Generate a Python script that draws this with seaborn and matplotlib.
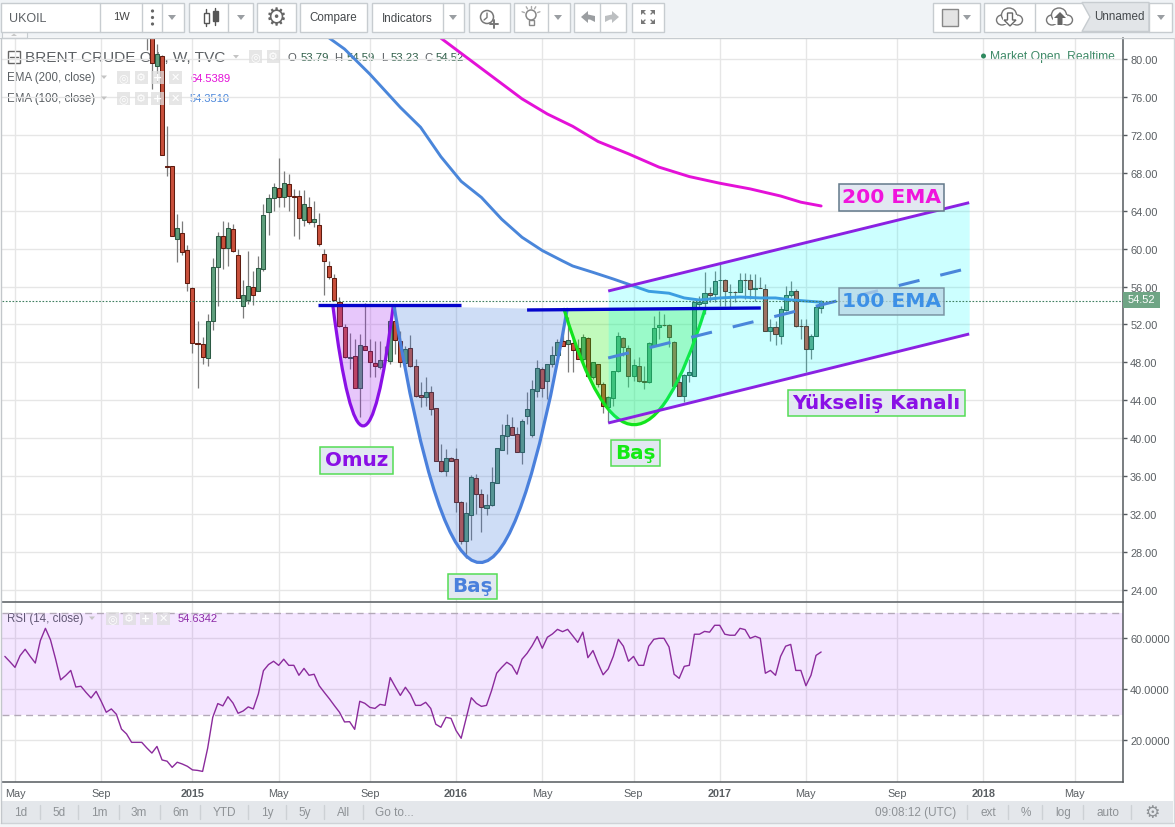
import numpy as np
import pandas as pd
import seaborn as sns
import matplotlib
matplotlib.use("Agg")
import matplotlib.pyplot as plt
from matplotlib.path import Path
from matplotlib.patches import PathPatch, Rectangle, Circle, Polygon, Ellipse

# ---------- data ----------
first_week = 26
opens = [88, 83.5, 79.23, 80.28, 68.7, 68.68, 61.02, 61.61, 59.82, 55.81,
         50.01, 49.91, 48.43, 52.33, 58.1, 61.37, 60.03, 62.04, 59.29, 53.9,
         54.62, 55.99, 55.5, 57.82, 63.83, 65.31, 66.36, 65.41, 66.78, 65.52,
         65.52, 62.99, 64.36, 62.77, 62.46, 59.4, 58.13, 56.87, 54.41, 51.7,
         48.43, 48.71, 45.27, 49.77, 49.17, 47.94, 47.55, 48.29, 48.2, 52.4,
         50.3, 47.97, 49.49, 47.59, 44.53, 44.32, 44.84, 43.16, 37.64, 36.58,
         37.88, 37.78, 33.24, 29.2, 31.94, 35.78, 34.09, 32.68, 33.0, 35.32,
         38.8, 40.2, 41.15, 40.41, 38.52, 42.38, 40.38, 44.95, 47.27, 46.07,
         47.8, 48.78, 50.22, 49.94, 50.05, 49.5, 48.36, 50.54, 46.43, 47.8,
         45.69, 43.26, 44.3, 47.06, 50.54, 49.49, 46.53, 47.66, 46.01, 45.9,
         49.87, 51.7, 51.98, 51.94, 50.19, 45.9, 44.49, 46.71, 46.6, 54.2,
         54.23, 55.29, 55.22, 56.68, 56.73, 55.4, 55.4, 55.39, 56.73, 56.66,
         55.74, 55.88, 55.71, 51.31, 51.7, 50.75, 53.53, 55.15, 55.57, 51.88,
         51.81, 49.38, 50.75, 53.79]
highs = [92, 85, 81.58, 80.4, 72.97, 68.7, 63.65, 62.88, 60.38, 55.92,
         52.33, 50.65, 53.11, 58.98, 61.72, 62.95, 62.77, 62.6, 59.96, 56.73,
         59.79, 57.6, 59.19, 64.71, 65.76, 66.92, 69.56, 68.15, 67.84, 66.29,
         66.22, 66.22, 65.41, 64.99, 63.76, 59.96, 58.73, 57.33, 54.87, 52.05,
         51.1, 50.47, 51.0, 54.27, 50.47, 50.3, 50.3, 49.77, 52.58, 53.99,
         51.35, 49.77, 50.89, 48.36, 45.9, 46.43, 45.55, 43.16, 39.4, 38.87,
         37.99, 38.94, 33.42, 33.24, 36.13, 36.23, 34.65, 34.12, 36.94, 38.94,
         41.51, 42.56, 42.21, 41.15, 42.03, 44.85, 46.15, 48.26, 47.48, 47.83,
         49.77, 50.47, 51.7, 52.76, 50.82, 50.47, 51.0, 50.65, 48.01, 47.83,
         45.9, 44.5, 47.13, 51.17, 50.65, 49.84, 48.36, 48.54, 47.66, 50.12,
         52.93, 53.46, 53.1, 52.05, 50.3, 46.88, 46.78, 48.36, 54.51, 55.0,
         57.5, 55.92, 57.6, 58.38, 56.8, 56.27, 55.5, 57.4, 57.4, 57.33,
         57.33, 57.04, 56.27, 52.58, 52.4, 53.99, 56.1, 56.55, 55.74, 52.58,
         52.58, 51.0, 53.99, 54.59]
lows = [81, 76.84, 77.54, 69.9, 67.63, 61.37, 58.63, 59.33, 55.57, 48.99,
        45.27, 47.83, 47.66, 51.46, 53.98, 57.85, 58.2, 59.61, 54.76, 52.65,
        54.16, 54.09, 55.5, 57.6, 61.44, 64.0, 64.36, 64.36, 64.0, 61.37,
        61.02, 62.42, 62.6, 62.25, 60.24, 55.15, 56.8, 54.51, 51.7, 48.43,
        47.3, 45.27, 42.21, 49.27, 46.43, 46.43, 47.3, 48.2, 47.83, 48.89,
        47.48, 47.48, 47.48, 44.32, 43.26, 43.44, 42.49, 37.64, 36.41, 36.06,
        37.57, 32.26, 28.85, 27.34, 29.31, 32.0, 30.08, 31.91, 32.89, 35.32,
        38.8, 38.34, 40.38, 38.59, 37.3, 41.5, 40.17, 44.39, 44.32, 44.14,
        47.48, 48.71, 49.7, 46.95, 46.95, 48.36, 48.01, 46.43, 46.25, 45.37,
        42.67, 41.68, 43.44, 46.95, 48.71, 45.37, 46.07, 45.97, 45.2, 45.83,
        49.77, 50.47, 51.88, 49.59, 45.37, 44.49, 43.79, 45.9, 46.6, 53.6,
        53.1, 54.34, 54.34, 53.99, 53.99, 53.8, 54.34, 55.39, 54.69, 54.69,
        54.51, 55.8, 51.31, 50.3, 49.84, 49.94, 53.46, 54.87, 51.7, 50.47,
        46.95, 48.36, 50.75, 53.23]
closes = [84, 79.58, 80.53, 69.91, 68.65, 61.37, 62.14, 59.61, 56.34, 50.01,
          49.91, 48.54, 52.33, 58.03, 61.37, 60.03, 62.14, 59.72, 54.76, 55.15,
          56.1, 55.08, 57.92, 63.6, 65.31, 66.47, 65.41, 66.87, 65.52, 65.41,
          63.2, 64.67, 62.77, 63.09, 60.46, 58.66, 56.97, 54.62, 51.81, 48.54,
          48.61, 45.27, 49.87, 49.27, 48.08, 47.66, 48.29, 48.22, 52.4, 50.4,
          48.01, 49.38, 47.66, 44.42, 44.32, 44.84, 43.12, 37.64, 36.58, 37.88,
          37.57, 33.24, 29.2, 32.08, 35.88, 34.09, 32.72, 33.0, 35.35, 38.94,
          40.31, 41.4, 40.38, 38.59, 41.8, 43.05, 45.2, 47.37, 45.27, 47.8,
          48.78, 50.12, 49.77, 50.33, 49.35, 48.36, 50.65, 46.53, 48.01, 45.69,
          43.44, 44.4, 47.13, 50.75, 49.59, 46.53, 47.76, 46.01, 45.95, 50.01,
          51.63, 51.98, 51.91, 50.65, 45.55, 44.49, 46.71, 47.03, 54.34, 54.34,
          55.29, 55.08, 56.62, 56.73, 55.5, 55.43, 55.38, 56.73, 56.7, 55.74,
          55.85, 55.84, 51.31, 51.7, 50.96, 53.63, 55.15, 55.57, 51.88, 51.83,
          49.38, 50.75, 53.81, 54.52]

ema100_week = [62, 65, 70, 76, 80, 84, 88, 92, 96, 100, 104, 108, 110, 114, 118, 122, 125, 129,
               132, 135, 139, 143, 147, 150, 153, 159]
ema100_val = [82.2, 81.05, 78.4, 74.9, 72.8, 69.7, 67.1, 65.4, 63.1, 61.2, 59.8, 58.7, 58.17, 57.5,
              56.8, 56.06, 55.5, 55.3, 54.8, 54.58, 54.8, 54.9, 54.8, 54.8, 54.6, 54.35]
ema200_week = [84, 90, 96, 100, 105, 110, 115, 121, 127, 133, 139, 145, 151, 155, 159]
ema200_val = [82.2, 79.8, 77.4, 75.8, 74.2, 72.9, 71.3, 70.0, 68.6, 67.6, 66.9, 66.3, 65.55, 64.9, 64.5]

rsi_first_week = -2
rsi_val = [52.9, 50.8, 48.6, 53.2, 55.7, 52.9, 50.3, 59.1, 63.9, 59.4, 51.9, 43.7, 45.4, 47.4, 40.9,
           41.2, 38.8, 36.6, 39.2, 35.3, 31.0, 32.3, 30.2, 24.4, 22.5, 19.2, 19.2, 19.2, 17.0, 15.0,
           17.6, 12.3, 11.8, 9.4, 11.4, 10.7, 9.8, 8.4, 8.2, 7.8, 16.9, 29.0, 34.4, 33.5, 37.1, 34.6,
           30.6, 31.5, 33.1, 32.3, 38.2, 47.3, 49.7, 51.0, 49.4, 51.8, 49.4, 49.4, 45.5, 48.2, 45.5,
           45.9, 41.4, 38.8, 36.3, 33.6, 31.0, 27.2, 27.3, 24.3, 35.3, 34.5, 32.9, 32.5, 34.1, 33.7,
           44.6, 41.0, 37.6, 40.8, 38.0, 33.7,
           33.7, 34.9, 32.5, 26.3, 25.1, 29.0, 28.6, 23.8, 20.8, 28.8, 36.7, 34.5, 33.3, 33.7, 39.5,
           46.3, 48.6, 50.6, 49.3, 45.9, 51.8, 54.1, 57.1, 60.7, 56.1, 60.4, 61.7, 63.5, 62.6, 63.5,
           61.0, 58.4, 62.4, 52.4, 55.2, 50.2, 45.7, 48.0, 52.9, 59.6, 56.9, 51.0, 52.9, 49.4, 49.4,
           56.9, 59.6, 60.0, 60.0, 56.6, 45.9, 44.3, 49.0, 49.4, 61.6, 61.6, 62.7, 62.4, 65.1, 65.1,
           61.6, 61.2, 61.2, 63.9, 63.4, 60.0, 60.8, 60.0, 46.3, 47.4, 45.5, 52.9, 56.9, 57.6, 47.4,
           47.4, 41.4, 45.5, 53.3, 54.63]

date_ticks = [0, 17, 35, 52, 70, 87, 104, 122, 139, 156, 174, 191, 209]
date_labels = ["May", "Sep", "2015", "May", "Sep", "2016", "May", "Sep", "2017", "May", "Sep", "2018", "May"]
price_ticks = list(range(24, 84, 4))
rsi_ticks = [20, 40, 60]
last_price = 54.52

shoulder_week, shoulder_price = [62.7, 68.7, 74.6], [53.95, 28.65, 53.95]
head_week, head_price = [74.75, 91.5, 108.9], [53.95, 0.0, 53.6]
right_week, right_price = [108.3, 122.0, 136.1], [53.6, 29.26, 53.6]
channel_week = [117.0, 188.2]
channel_top = [55.53, 64.85]
channel_mid = [48.47, 57.96]
channel_bot = [41.61, 51.0]
neck1_week, neck1_price = [59.8, 88.0], [54.06, 54.06]
neck2_week, neck2_price = [101.0, 147.1], [53.53, 53.74]

# ---------- theme ----------
sns.set_theme(style="white")
plt.rcParams["font.family"] = ["Liberation Sans", "DejaVu Sans"]

W, H = 1175, 828
fig = plt.figure(figsize=(W / 100, H / 100), dpi=100, facecolor="white")


def box(l, t, r, b):
    return [l / W, 1 - b / H, (r - l) / W, (b - t) / H]


GRID = "#e6e6e6"
AXC = "#555a5e"
TXT = "#5a5f63"

# chrome under the panes (legend)
under = fig.add_axes([0, 0, 1, 1], zorder=0)
under.set_xlim(0, W); under.set_ylim(H, 0); under.axis("off")

# main pane
ax = fig.add_axes(box(2, 39, 1122.5, 603), zorder=1, facecolor="none")
x2w = lambda px: (px - 15) / 5.07
ax.set_xlim(x2w(2), x2w(1122.5))
ax.set_ylim(80 - (603 - 60) / 9.482, 80 + 21 / 9.482)

# rsi pane
rx = fig.add_axes(box(2, 603.5, 1122.5, 783), zorder=1, facecolor="none")
rx.set_xlim(ax.get_xlim())
rx.set_ylim(20 - (783 - 741.3) / 2.55, 60 + (639.3 - 603.5) / 2.55)

for a, yt in ((ax, price_ticks), (rx, rsi_ticks)):
    a.set_axisbelow(True)
    a.grid(True, color=GRID, lw=1)
    a.set_xticks(date_ticks)
    a.yaxis.tick_right()
    a.set_yticks(yt)
    for s in ("left", "top"):
        a.spines[s].set_visible(False)
    for s in ("right", "bottom"):
        a.spines[s].set_color(AXC); a.spines[s].set_linewidth(1.1)
    a.tick_params(axis="y", length=3, width=1, color=AXC, labelcolor=TXT, labelsize=7.9, pad=2.5)

ax.set_yticklabels(["%.2f" % v for v in price_ticks])
rx.set_yticklabels(["%.4f" % v for v in rsi_ticks])
ax.tick_params(axis="x", length=0, labelbottom=False)
rx.tick_params(axis="x", length=3, width=1, color=AXC, labelcolor=TXT, labelsize=7.8, pad=1.5)
rx.set_xticklabels(date_labels)
for lab, txt in zip(rx.get_xticklabels(), date_labels):
    if txt.isdigit():
        lab.set_fontweight("bold")
ax.spines["bottom"].set_visible(True)
ax.set_xlabel(""); ax.set_ylabel(""); rx.set_xlabel(""); rx.set_ylabel("")

# candles
candles = pd.DataFrame({"open": opens, "high": highs, "low": lows, "close": closes})
candles["week"] = np.arange(first_week, first_week + len(candles))
up = candles["close"] >= candles["open"]
ax.vlines(candles["week"], candles["low"], candles["high"], color="#7b7b7b", lw=0.9, zorder=2)
bottoms = candles[["open", "close"]].min(axis=1)
heights = (candles["close"] - candles["open"]).abs()
ax.bar(candles["week"], heights, bottom=bottoms, width=0.8,
       color=np.where(up, "#5f9f7d", "#c9503b"),
       edgecolor=np.where(up, "#2c5a44", "#5e1c10"), linewidth=0.75, zorder=3)

# EMAs
ema100 = pd.DataFrame({"week": ema100_week, "value": ema100_val})
ema200 = pd.DataFrame({"week": ema200_week, "value": ema200_val})
sns.lineplot(data=ema100, x="week", y="value", ax=ax, color="#4a86da", lw=2.1, zorder=4, errorbar=None,
             solid_joinstyle="round")
sns.lineplot(data=ema200, x="week", y="value", ax=ax, color="#e411d8", lw=2.1, zorder=4, errorbar=None,
             solid_joinstyle="round")
ax.set_xlabel(""); ax.set_ylabel("")


def curve(weeks, prices, line, fill, alpha):
    v = list(zip(weeks, prices))
    ax.add_patch(PathPatch(Path(v + [v[0]], [Path.MOVETO, Path.CURVE3, Path.CURVE3, Path.CLOSEPOLY]),
                           facecolor=fill, edgecolor="none", alpha=alpha, zorder=5))
    ax.add_patch(PathPatch(Path(v, [Path.MOVETO, Path.CURVE3, Path.CURVE3]),
                           facecolor="none", edgecolor=line, lw=2.3, zorder=6, capstyle="round"))


curve(shoulder_week, shoulder_price, "#8a10e6", "#a020f0", 0.25)
curve(head_week, head_price, "#4a80dc", "#3c78dc", 0.25)
curve(right_week, right_price, "#12e41c", "#22ee10", 0.28)

ax.fill_between(channel_week, channel_bot, channel_top, color="#00ffff", alpha=0.2, lw=0, zorder=7)
ax.plot(channel_week, channel_top, color="#8a22e2", lw=2.1, zorder=8, solid_capstyle="butt")
ax.plot(channel_week, channel_bot, color="#8a22e2", lw=2.1, zorder=8, solid_capstyle="butt")
ax.plot(channel_week, channel_mid, color="#4a86da", lw=2.2, ls=(0, (7, 7)), zorder=8)
ax.plot(neck1_week, neck1_price, color="#0404cc", lw=2.4, zorder=9, solid_capstyle="butt")
ax.plot(neck2_week, neck2_price, color="#0404cc", lw=2.4, zorder=9, solid_capstyle="butt")
ax.axhline(last_price, color="#3f7f60", lw=0.8, ls=(0, (1.5, 1.5)), zorder=9)

# RSI
rsi = pd.DataFrame({"week": np.arange(rsi_first_week, rsi_first_week + len(rsi_val)), "rsi": rsi_val})
rx.axhspan(30, 70, color="#9915ff", alpha=0.105, lw=0, zorder=1)
for lvl in (30, 70):
    rx.axhline(lvl, color="#b3a9b8", lw=1, ls=(0, (5, 3.5)), zorder=1.5)
sns.lineplot(data=rsi, x="week", y="rsi", ax=rx, color="#8b2b9c", lw=1.0, zorder=3, errorbar=None)
rx.set_xlabel(""); rx.set_ylabel("")


# ---------- legend under panes ----------
def T(a, x, y, s, size=8.5, color=TXT, ha="left", weight="normal", **kw):
    return a.text(x, y, s, fontsize=size, color=color, ha=ha, va="center", fontweight=weight, **kw)


under.add_patch(Rectangle((7.5, 52), 12, 12, fc="white", ec="#666", lw=1))
under.plot([9.5, 17.5], [58, 58], color="#666", lw=1)
T(under, 25, 58, "BRENT CRUDE OIL, W, TVC", size=11.1, color="#5c6064")
T(under, 7, 78, "EMA (200, close)", size=8.3)
T(under, 7, 99, "EMA (100, close)", size=8.3)
T(under, 190, 78.5, "64.5389", size=8.0, color="#e411d8")
T(under, 190, 99.5, "54.3510", size=8.0, color="#4a86da")
T(under, 7, 619, "RSI (14, close)", size=8.3)
T(under, 178, 619.5, "54.6342", size=8.0, color="#8b2b9c")
T(under, 288, 58, "O", size=8.2)
T(under, 301, 58, "53.79", size=8.2, color="#2f5f49")
T(under, 334, 58, "H", size=8.2)
T(under, 347, 58, "54.59", size=8.2, color="#2f5f49")
T(under, 381, 58, "L", size=8.2)
T(under, 391, 58, "53.23", size=8.2, color="#2f5f49")
T(under, 424, 58, "C", size=8.2)
T(under, 436, 58, "54.52", size=8.2, color="#2f5f49")
T(under, 990, 57, "Market Open  Realtime", size=8.7, color="#3f8a68")

# ---------- chrome above panes ----------
top = fig.add_axes([0, 0, 1, 1], zorder=3)
top.set_xlim(0, W); top.set_ylim(H, 0); top.axis("off"); top.patch.set_alpha(0)

top.add_patch(Circle((983.5, 57), 2.5, fc="#2f8a5f", ec="none"))

BAR = "#f0f3f6"
EDGE = "#c7ccd0"
top.add_patch(Rectangle((0, 0), W, 38, fc=BAR, ec="none"))
top.plot([0, W], [38.5, 38.5], color=EDGE, lw=1)
top.add_patch(Rectangle((2, 33), 25, 5.5, fc="#f7f8f9", ec=EDGE, lw=0.8))
top.add_patch(Polygon([[11, 37], [17, 37], [14, 34.5]], fc="#c8c8c8", ec="none"))


def btn(l, r, seps=(), fc="white"):
    top.add_patch(Rectangle((l, 3.5), r - l, 29, fc=fc, ec=EDGE, lw=1))
    for s in seps:
        top.plot([s, s], [3.5, 32.5], color=EDGE, lw=1)


def arrow_down(x, y=18, c="#9a9ea2"):
    top.add_patch(Polygon([[x - 4, y - 2], [x + 4, y - 2], [x, y + 3]], fc=c, ec="none"))


btn(1, 183.5, (100, 141.5, 162))
btn(188.5, 253, (228,))
btn(257, 296)
btn(300, 366.5)
btn(371.5, 464, (443,))
btn(468.5, 510)
btn(514, 570, (548,))
btn(574, 626, (600,))
btn(632, 664)
btn(933, 979.5)
btn(984, 1172, (1035, 1149))
top.add_patch(Polygon([[1082, 3.5], [1149, 3.5], [1149, 32.5], [1082, 32.5], [1090, 18]],
                      fc="#e2e5e8", ec=EDGE, lw=1))
T(top, 9, 18.5, "UKOIL", size=9.0, color="#5c6064")
T(top, 121, 17.5, "1W", size=8, color="#444", ha="center")
for yy in (12, 18.5, 25):
    top.add_patch(Circle((152.5, yy), 1.6, fc="#666", ec="none"))
arrow_down(172); arrow_down(241); arrow_down(453); arrow_down(558); arrow_down(967); arrow_down(1161)
T(top, 333, 18.5, "Compare", size=8.4, color="#45494c", ha="center")
T(top, 407, 18.5, "Indicators", size=8.4, color="#45494c", ha="center")
T(top, 1119, 17.5, "Unnamed", size=8.4, color="#45494c", ha="center")
# candle icon
top.plot([206, 206], [10, 27], color="#555", lw=1)
top.plot([215, 215], [9, 26], color="#555", lw=1)
top.add_patch(Rectangle((204, 14), 4.5, 10, fc="white", ec="#555", lw=1, zorder=3))
top.add_patch(Rectangle((213, 12), 4.5, 10, fc="#555", ec="#555", lw=1, zorder=3))
top.text(276, 18, "\u2699", fontsize=17, color="#666", ha="center", va="center", family="DejaVu Sans")
# alarm
top.add_patch(Circle((487, 18), 6.5, fc="none", ec="#777", lw=1.1))
top.plot([487, 487, 484], [14, 18.5, 21], color="#777", lw=1)
top.plot([494, 494], [21, 29], color="#777", lw=1.4)
top.plot([490, 498], [25, 25], color="#777", lw=1.4)
# bulb
top.add_patch(Circle((531, 16), 5, fc="none", ec="#888", lw=1.1))
top.add_patch(Rectangle((528.5, 21), 5, 5, fc="white", ec="#888", lw=1))
for a_ in np.deg2rad([-160, -120, -90, -60, -20]):
    top.plot([531 + 7 * np.cos(a_), 531 + 9.5 * np.cos(a_)], [16 + 7 * np.sin(a_), 16 + 9.5 * np.sin(a_)],
             color="#aaa", lw=1)
# undo / redo


def hook(x, sgn, c):
    top.add_patch(Polygon([[x - 7 * sgn, 18], [x, 12], [x, 15.5], [x + 7 * sgn, 17], [x + 7 * sgn, 23],
                           [x + 2 * sgn, 20.5], [x, 20.5], [x, 24]], fc=c, ec="none"))


hook(588, 1, "#9b9ea1")
hook(612, -1, "#bcbfc1")
# fullscreen
for sx in (-1, 1):
    for sy in (-1, 1):
        cx, cy = 648 + sx * 7, 18 + sy * 7
        top.add_patch(Polygon([[cx, cy], [cx - sx * 5, cy], [cx, cy - sy * 5]], fc="#777", ec="none"))
        top.plot([cx - sx * 1, cx - sx * 4], [cy - sy * 1, cy - sy * 4], color="#777", lw=1)
top.add_patch(Rectangle((942, 10), 16, 17, fc="#e4e4e4", ec="#888", lw=1))


def cloud(x, filled):
    for dx, dy, w_, h_ in ((-8, 3, 11, 10), (7, 3, 11, 10), (-1, -2, 15, 14)):
        top.add_patch(Ellipse((x + dx, 18 + dy), w_, h_, fc="white", ec="#777", lw=1))
    top.add_patch(Rectangle((x - 7, 16), 14, 9, fc="white", ec="none"))
    if filled:
        top.add_patch(Polygon([[x, 13], [x + 6, 19], [x + 2.5, 19], [x + 2.5, 26], [x - 2.5, 26], [x - 2.5, 19], [x - 6, 19]],
                              fc="#666", ec="none"))
    else:
        top.add_patch(Polygon([[x, 27], [x + 6, 21], [x + 2.5, 21], [x + 2.5, 14], [x - 2.5, 14], [x - 2.5, 21], [x - 6, 21]],
                              fc="white", ec="#666", lw=1))


cloud(1010, False)
cloud(1060, True)

# price label
top.add_patch(Rectangle((1122.5, 293), 37.5, 15.5, fc="#6fa585", ec="none"))
T(top, 1141.5, 300.5, "54.52", size=8.0, color="white", ha="center")

# legend icon squares
def icons(xs, y):
    for i, x in enumerate(xs):
        top.add_patch(Rectangle((x - 6.5, y - 6.5), 13, 13, fc="#dedede", ec="none", alpha=0.75))
        s = ["\u25ce", "\u2699", "+", "\u2715"][i]
        top.text(x, y, s, fontsize=8, color="white", ha="center", va="center", family="DejaVu Sans",
                 fontweight="bold")


icons([255.6, 273], 57)
icons([123.6, 141, 157, 175], 78)
icons([123.6, 141, 157, 175], 99)
icons([112, 129, 146, 163], 619)
for x, y in ((236, 57.5), (104, 78), (104, 99), (92, 619)):
    top.add_patch(Polygon([[x - 3, y - 1.5], [x + 3, y - 1.5], [x, y + 2]], fc="#c4c4c4", ec="none"))

# annotation labels
LBL = "#e2e8f1"


def label(l, t, r, b, s, color, edge, size, fc=LBL, alpha=1.0):
    top.add_patch(Rectangle((l, t), r - l, b - t, fc=fc, ec=edge, lw=1.1, alpha=alpha))
    top.text((l + r) / 2, (t + b) / 2 - 0.5, s, fontsize=size, color=color, ha="center", va="center",
             fontweight="bold", family="DejaVu Sans")


label(320, 447.5, 393, 474.5, "Omuz", "#8a10e6", "#55dd55", 14.3)
label(447.5, 574.5, 496.5, 600, "Baş", "#4a80dc", "#55dd55", 14.3)
label(610.5, 441, 659.5, 467, "Baş", "#14ea14", "#55dd55", 14.3)
label(787.5, 391, 964.5, 417, "Yükseliş Kanalı", "#8a10e6", "#55dd55", 14.3)
label(838.5, 184.5, 943.5, 211.5, "200 EMA", "#f014dc", "#63798a", 14.6)
label(838.5, 288.5, 943.5, 315.5, "100 EMA", "#3d90e6", "#63798a", 14.6, fc="#b9d6e6", alpha=0.75)

# bottom bar
top.add_patch(Rectangle((1, 802), 1172, 22, fc="#e4e7eb", ec="none"))
top.add_patch(Rectangle((0, 824), W, 4, fc="#f3f5f7", ec="none"))
top.plot([1, 1173], [824.5, 824.5], color="#cfd3d7", lw=1)
top.plot([1, 1], [39, 824], color="#c3c7cb", lw=1)
top.plot([1173.5, 1173.5], [39, 824], color="#d3d7db", lw=1)
GREY = "#8e9296"
for x, s in ((21, "1d"), (59, "5d"), (99, "1m"), (139, "3m"), (181, "6m"), (224, "YTD"), (267, "1y"),
             (305, "5y"), (344, "All"), (394, "Go to...")):
    T(top, x, 813, s, size=8.5, color=GREY, ha="center")
T(top, 916, 813, "09:08:12 (UTC)", size=8.5, color=GREY, ha="center")
for x, s in ((988, "ext"), (1026, "%"), (1063, "log"), (1108, "auto")):
    T(top, x, 813, s, size=8.5, color=GREY, ha="center")
top.text(1152, 813, "\u2699", fontsize=12.5, color=GREY, ha="center", va="center", family="DejaVu Sans")
for x in (40, 78, 119, 160, 200, 248, 286, 324, 363, 967, 1008, 1042, 1083, 1131):
    top.plot([x, x], [806, 820], color="#cdd1d5", lw=1)

fig.savefig("out.png", dpi=100)
